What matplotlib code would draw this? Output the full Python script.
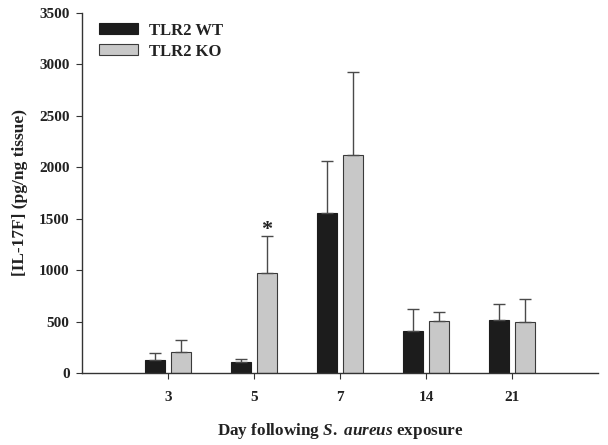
import numpy as np
import matplotlib
matplotlib.use("Agg")
import matplotlib.pyplot as plt

days = ["3", "5", "7", "14", "21"]
wt_mean = [132, 107, 1559, 408, 514]
wt_err = [68, 35, 499, 216, 162]
ko_mean = [207, 976, 2119, 505, 495]
ko_err = [116, 360, 802, 93, 226]

plt.rcParams['font.family'] = ['Liberation Serif', 'DejaVu Serif']
plt.rcParams['font.weight'] = 'bold'
plt.rcParams['mathtext.fontset'] = 'custom'
plt.rcParams['mathtext.rm'] = 'Liberation Serif:bold'
plt.rcParams['mathtext.it'] = 'Liberation Serif:italic:bold'

fig = plt.figure(figsize=(6.08, 4.45), dpi=100)
ax = fig.add_axes([0.1349, 0.1611, 0.8487, 0.8104])

x = np.arange(1, len(days) + 1)
w = 0.233
off = 0.151
edge = '#3a3a3a'
ekw = dict(ecolor='#4a4a4a', elinewidth=1.0, capsize=4.3, capthick=1.0)
ax.bar(x - off, wt_mean, w, color='#1c1c1c', edgecolor='#1c1c1c', linewidth=0.8,
       yerr=[np.zeros(len(wt_err)), wt_err], error_kw=ekw, label='TLR2 WT')
ax.bar(x + off, ko_mean, w, color='#c8c8c8', edgecolor=edge, linewidth=0.8,
       yerr=[np.zeros(len(ko_err)), ko_err], error_kw=ekw, label='TLR2 KO')

# significance marker at day 5 KO
ax.text(x[1] + off, ko_mean[1] + ko_err[1] - 45, '*', ha='center', va='bottom',
        fontsize=16, fontweight='bold', color='#222222')

ax.set_xlim(0, 6)
ax.set_ylim(0, 3500)
ax.set_xticks(x)
ax.set_xticklabels(days)
ax.set_yticks(np.arange(0, 3501, 500))
ax.tick_params(axis='both', labelsize=11, direction='out', length=4, color='#333333',
               labelcolor='#222222')
ax.tick_params(axis='x', pad=9)
ax.tick_params(axis='y', pad=5)
for lab in ax.get_xticklabels() + ax.get_yticklabels():
    lab.set_fontweight('bold')

for s in ['top', 'right']:
    ax.spines[s].set_visible(False)
for s in ['left', 'bottom']:
    ax.spines[s].set_color('#333333')
    ax.spines[s].set_linewidth(1.0)

ax.set_ylabel('[IL-17F] (pg/ng tissue)', fontsize=12.5, fontweight='bold', labelpad=8,
              color='#222222')
ax.set_xlabel(r'Day following $\mathit{S.\ aureus}$ exposure', fontsize=12.3,
              fontweight='bold', labelpad=12, color='#222222')

leg = ax.legend(loc='upper left', bbox_to_anchor=(0.004, 1.014), frameon=False, fontsize=12,
                handlelength=2.35, handleheight=0.6, handletextpad=0.66, labelspacing=0.3)
for t in leg.get_texts():
    t.set_color('#222222')

fig.savefig('out.png', dpi=100)
